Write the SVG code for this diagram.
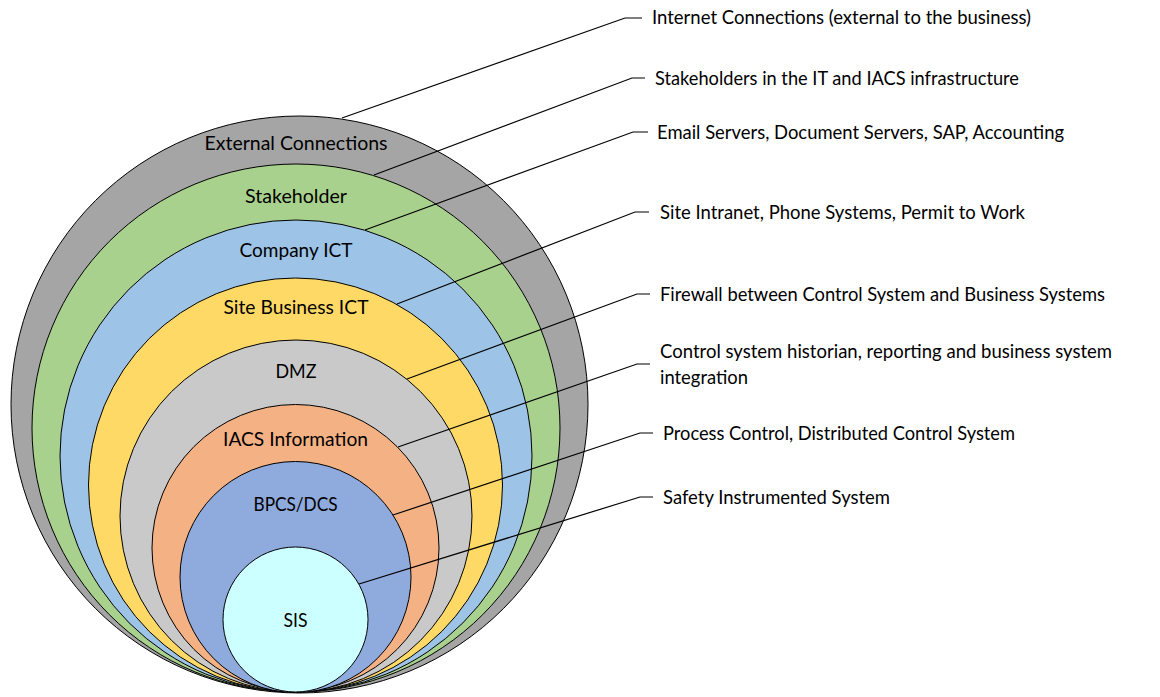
<svg xmlns="http://www.w3.org/2000/svg" width="1160" height="697" viewBox="0 0 1160 697">
  <style>
    .ring { stroke: #000; stroke-width: 1; }
    .lbl { font-family: Lato, "Open Sans", "Liberation Sans", sans-serif; font-size: 19px; fill: #000; }
    .mid { text-anchor: middle; }
    .lead { fill: none; stroke: #000; stroke-width: 1.2; }
  </style>

  <!-- nested zones, outermost first; all touch at the bottom -->
  <g id="zone-external">
    <circle class="ring" cx="299.5" cy="404.5" r="288.5" fill="#a5a5a5"/>
    <text class="lbl mid" x="296" y="150" textLength="183" lengthAdjust="spacingAndGlyphs">External Connections</text>
  </g>
  <g id="zone-stakeholder">
    <circle class="ring" cx="296" cy="428" r="264" fill="#a9d18e"/>
    <text class="lbl mid" x="296" y="203" textLength="102" lengthAdjust="spacingAndGlyphs">Stakeholder</text>
  </g>
  <g id="zone-company-ict">
    <circle class="ring" cx="296" cy="456" r="236" fill="#9dc3e6"/>
    <text class="lbl mid" x="296" y="257" textLength="113" lengthAdjust="spacingAndGlyphs">Company ICT</text>
  </g>
  <g id="zone-site-business-ict">
    <circle class="ring" cx="295.5" cy="485" r="207" fill="#ffd966"/>
    <text class="lbl mid" x="296" y="314" textLength="145" lengthAdjust="spacingAndGlyphs">Site Business ICT</text>
  </g>
  <g id="zone-dmz">
    <circle class="ring" cx="296" cy="516" r="176" fill="#c9c9c9"/>
    <text class="lbl mid" x="296" y="378" textLength="41" lengthAdjust="spacingAndGlyphs">DMZ</text>
  </g>
  <g id="zone-iacs-information">
    <circle class="ring" cx="295.5" cy="548" r="143.5" fill="#f4b183"/>
    <text class="lbl mid" x="295.5" y="446" textLength="145" lengthAdjust="spacingAndGlyphs">IACS Information</text>
  </g>
  <g id="zone-bpcs-dcs">
    <circle class="ring" cx="295.5" cy="577" r="115.5" fill="#8faadc"/>
    <text class="lbl mid" x="295.5" y="511" textLength="84" lengthAdjust="spacingAndGlyphs">BPCS/DCS</text>
  </g>
  <g id="zone-sis">
    <circle class="ring" cx="295.5" cy="619.5" r="72.5" fill="#ccffff"/>
    <text class="lbl mid" x="295.5" y="627" textLength="24" lengthAdjust="spacingAndGlyphs">SIS</text>
  </g>

  <!-- leader lines from each zone to its description -->
  <g id="connectors">
    <polyline class="lead" points="342,118 625,18 642,18"/>
    <polyline class="lead" points="374,175 632,78 645,78"/>
    <polyline class="lead" points="365,230 633,132 648,132"/>
    <polyline class="lead" points="397,304 635,212 649,212"/>
    <polyline class="lead" points="407,379 637,294 650,294"/>
    <polyline class="lead" points="398,447 637,364 650,364"/>
    <polyline class="lead" points="393,515 640,433 653,433"/>
    <polyline class="lead" points="359,584 640,497 653,497"/>
  </g>

  <!-- descriptions -->
  <g id="desc-external">
    <text class="lbl" x="652" y="24" textLength="379" lengthAdjust="spacingAndGlyphs">Internet Connections (external to the business)</text>
  </g>
  <g id="desc-stakeholder">
    <text class="lbl" x="655" y="85" textLength="364" lengthAdjust="spacingAndGlyphs">Stakeholders in the IT and IACS infrastructure</text>
  </g>
  <g id="desc-company-ict">
    <text class="lbl" x="657" y="139" textLength="407" lengthAdjust="spacingAndGlyphs">Email Servers, Document Servers, SAP, Accounting</text>
  </g>
  <g id="desc-site-business-ict">
    <text class="lbl" x="660" y="219" textLength="365" lengthAdjust="spacingAndGlyphs">Site Intranet, Phone Systems, Permit to Work</text>
  </g>
  <g id="desc-dmz">
    <text class="lbl" x="660" y="301" textLength="445" lengthAdjust="spacingAndGlyphs">Firewall between Control System and Business Systems</text>
  </g>
  <g id="desc-iacs-information">
    <text class="lbl" x="660" y="358" textLength="452" lengthAdjust="spacingAndGlyphs">Control system historian, reporting and business system</text>
    <text class="lbl" x="660" y="384" textLength="88" lengthAdjust="spacingAndGlyphs">integration</text>
  </g>
  <g id="desc-bpcs-dcs">
    <text class="lbl" x="663" y="440" textLength="352" lengthAdjust="spacingAndGlyphs">Process Control, Distributed Control System</text>
  </g>
  <g id="desc-sis">
    <text class="lbl" x="663" y="504" textLength="227" lengthAdjust="spacingAndGlyphs">Safety Instrumented System</text>
  </g>
</svg>
